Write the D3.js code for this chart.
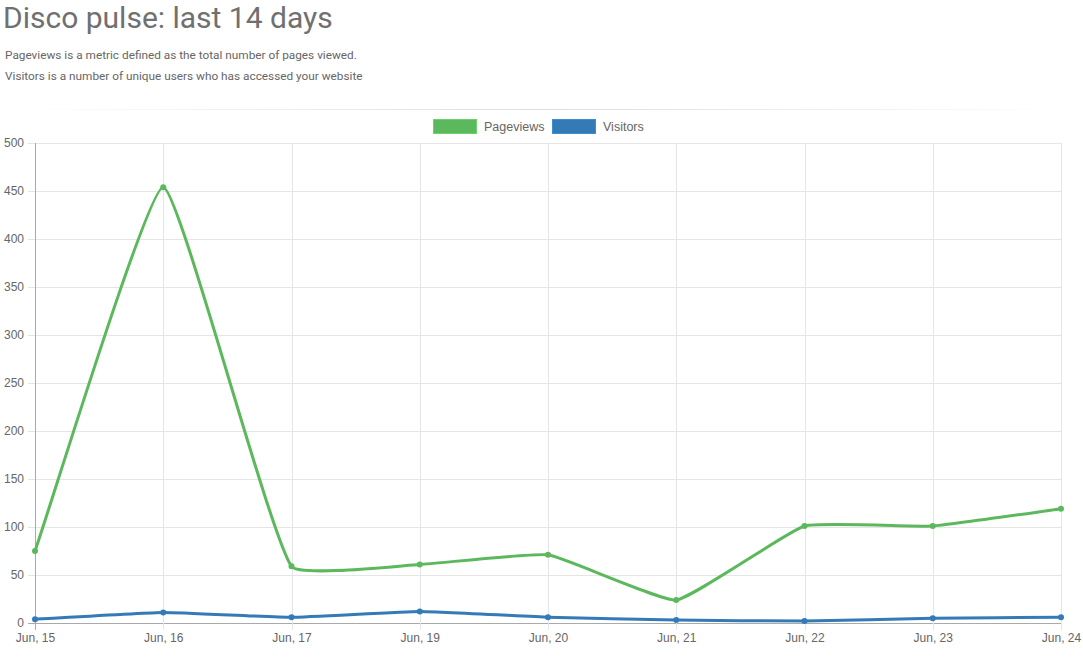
<!DOCTYPE html>
<html>
<head>
<meta charset="utf-8">
<script src="https://cdn.jsdelivr.net/npm/d3@7"></script>
<style>
  body { margin: 0; background: #fff; }
  svg { display: block; }
</style>
</head>
<body>
<div id="chart"></div>
<script>
// Chart data
const days = ["Jun, 15", "Jun, 16", "Jun, 17", "Jun, 19", "Jun, 20", "Jun, 21", "Jun, 22", "Jun, 23", "Jun, 24"];
const pageviews = [75, 454, 59, 61, 71, 24, 101, 101, 119];
const visitors = [4, 11, 6, 12, 6, 3, 2, 5, 6];
const yTicks = [0, 50, 100, 150, 200, 250, 300, 350, 400, 450, 500];

const series = [
    { name: "Pageviews", values: pageviews, color: "#5cb85c" },
    { name: "Visitors", values: visitors, color: "#337ab7" }
];

const W = 1083, H = 657;
const margin = { top: 143, right: 22, bottom: 34, left: 35 };
const width = W - margin.left - margin.right;
const height = H - margin.top - margin.bottom;

const svg = d3.select("#chart")
    .append("svg")
    .attr("width", W)
    .attr("height", H);

// Title and description
svg.append("text")
    .attr("x", 3)
    .attr("y", 28)
    .style("font-family", "Roboto, sans-serif")
    .style("font-size", "30px")
    .style("fill", "#707070")
    .text("Disco pulse: last 14 days");

const notes = [
    "Pageviews is a metric defined as the total number of pages viewed.",
    "Visitors is a number of unique users who has accessed your website"
];
svg.selectAll(".note")
    .data(notes)
    .enter()
    .append("text")
    .attr("class", "note")
    .attr("x", 5)
    .attr("y", (d, i) => 59 + i * 21)
    .style("font-family", "Roboto, sans-serif")
    .style("font-size", "11.8px")
    .style("fill", "#666")
    .text((d) => d);

// Fading separator line
const grad = svg.append("defs").append("linearGradient")
    .attr("id", "hr-fade")
    .attr("x1", "0%").attr("x2", "100%");
grad.append("stop").attr("offset", "0%").attr("stop-color", "#ddd").attr("stop-opacity", 0);
grad.append("stop").attr("offset", "50%").attr("stop-color", "#ddd").attr("stop-opacity", 1);
grad.append("stop").attr("offset", "100%").attr("stop-color", "#ddd").attr("stop-opacity", 0);
svg.append("rect")
    .attr("x", 10)
    .attr("y", 109)
    .attr("width", 1063)
    .attr("height", 1)
    .attr("fill", "url(#hr-fade)");

// Legend
const legendX = [433, 552];
const legend = svg.selectAll(".legend")
    .data(series)
    .enter()
    .append("g")
    .attr("class", "legend")
    .attr("transform", (d, i) => `translate(${legendX[i]},119)`);
legend.append("rect")
    .attr("x", 0.5)
    .attr("y", 0.5)
    .attr("width", 43)
    .attr("height", 14)
    .attr("fill", (d) => d.color)
    .attr("stroke", (d) => d3.color(d.color).brighter(0.4))
    .attr("stroke-width", 1);
legend.append("text")
    .attr("x", 51)
    .attr("y", 12)
    .style("font-family", "'Liberation Sans', Arial, sans-serif")
    .style("font-size", "12.5px")
    .style("fill", "#666")
    .text((d) => d.name);

const g = svg.append("g")
    .attr("transform", `translate(${margin.left},${margin.top})`);

// Scales
const x = d3.scalePoint()
    .domain(days)
    .range([0, width]);

const y = d3.scaleLinear()
    .domain([0, 500])
    .range([height, 0]);

// Grid lines
g.append("g")
    .selectAll("line")
    .data(yTicks)
    .enter()
    .append("line")
    .attr("x1", -7)
    .attr("x2", width)
    .attr("y1", (d) => Math.round(y(d)) + 0.5)
    .attr("y2", (d) => Math.round(y(d)) + 0.5)
    .attr("stroke", (d) => d === 0 ? "#aaa" : "#e5e5e5");

g.append("g")
    .selectAll("line")
    .data(days)
    .enter()
    .append("line")
    .attr("x1", (d) => Math.round(x(d)) + 0.5)
    .attr("x2", (d) => Math.round(x(d)) + 0.5)
    .attr("y1", 0)
    .attr("y2", height + 7)
    .attr("stroke", (d, i) => i === 0 ? "#aaa" : "#e5e5e5");

// Axes labels
const yAxis = g.append("g")
    .call(d3.axisLeft(y).tickValues(yTicks).tickSize(0).tickPadding(11));
yAxis.select(".domain").remove();
yAxis.selectAll("text")
    .style("font-family", "'Liberation Sans', Arial, sans-serif")
    .style("font-size", "12px")
    .style("fill", "#666");

const xAxis = g.append("g")
    .attr("transform", `translate(0,${height})`)
    .call(d3.axisBottom(x).tickSize(0).tickPadding(10));
xAxis.select(".domain").remove();
xAxis.selectAll("text")
    .style("font-family", "'Liberation Sans', Arial, sans-serif")
    .style("font-size", "12px")
    .style("fill", "#666");

// Chart.js style spline with a low tension
function splinePath(pts, t) {
    const cps = pts.map((cur, i) => {
        const prev = pts[Math.max(i - 1, 0)];
        const next = pts[Math.min(i + 1, pts.length - 1)];
        const d01 = Math.hypot(cur[0] - prev[0], cur[1] - prev[1]);
        const d12 = Math.hypot(next[0] - cur[0], next[1] - cur[1]);
        let s01 = d01 / (d01 + d12), s12 = d12 / (d01 + d12);
        if (isNaN(s01)) s01 = 0;
        if (isNaN(s12)) s12 = 0;
        const fa = t * s01, fb = t * s12;
        const clampY = (v) => Math.max(0, Math.min(height, v));
        return {
            prev: [cur[0] - fa * (next[0] - prev[0]), clampY(cur[1] - fa * (next[1] - prev[1]))],
            next: [cur[0] + fb * (next[0] - prev[0]), clampY(cur[1] + fb * (next[1] - prev[1]))]
        };
    });
    const p = d3.path();
    p.moveTo(pts[0][0], pts[0][1]);
    for (let i = 1; i < pts.length; i++) {
        p.bezierCurveTo(cps[i - 1].next[0], cps[i - 1].next[1], cps[i].prev[0], cps[i].prev[1], pts[i][0], pts[i][1]);
    }
    return p.toString();
}

// Lines and points
series.forEach((s) => {
    const pts = s.values.map((v, i) => [x(days[i]), y(v)]);
    g.append("path")
        .attr("d", splinePath(pts, 0.12))
        .attr("fill", "none")
        .attr("stroke", s.color)
        .attr("stroke-width", 3);

    g.selectAll(null)
        .data(s.values)
        .enter()
        .append("circle")
        .attr("cx", (d, i) => x(days[i]))
        .attr("cy", (d) => y(d))
        .attr("r", 3)
        .attr("fill", s.color);
});
</script>
</body>
</html>
